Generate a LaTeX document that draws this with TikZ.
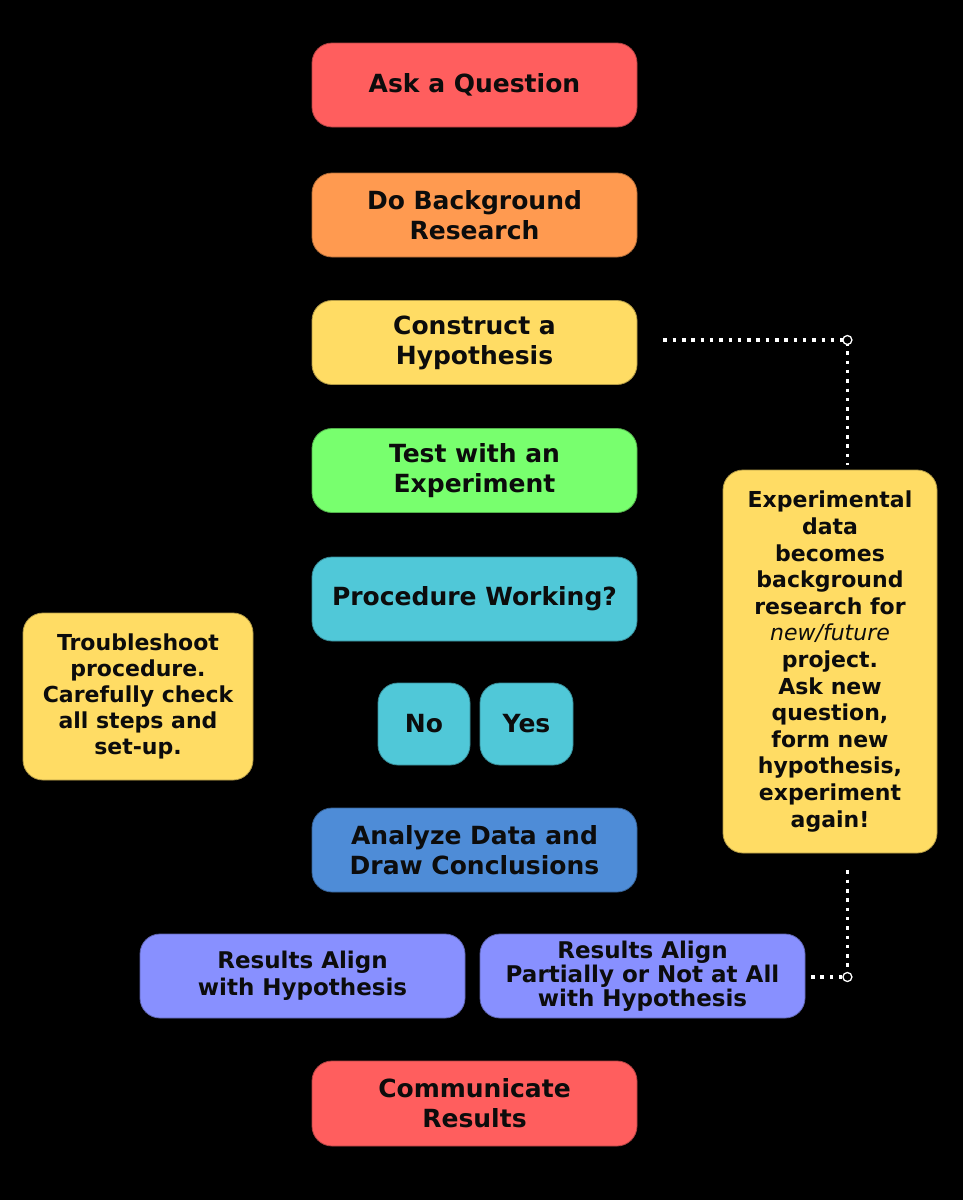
\documentclass[tikz,border=0pt]{standalone}
\usepackage{fontspec}
\setmainfont{DejaVu Sans}
\usetikzlibrary{calc}
\definecolor{cred}{RGB}{255,94,94}
\definecolor{corange}{RGB}{255,154,80}
\definecolor{cyellow}{RGB}{255,220,100}
\definecolor{cgreen}{RGB}{120,255,110}
\definecolor{ccyan}{RGB}{80,200,216}
\definecolor{cblue}{RGB}{78,140,215}
\definecolor{clav}{RGB}{136,144,255}
\definecolor{txt}{RGB}{12,12,12}
\tikzset{
  box/.style={rounded corners=20pt, draw=#1!70!black, fill=#1, line width=0.8pt,
    align=center, inner sep=0pt, text=txt,
    font=\bfseries\fontsize{25}{30}\selectfont},
  mainbox/.style={box=#1, minimum width=325pt, minimum height=84pt},
  smallbox/.style={box=#1, font=\bfseries\fontsize{22}{26}\selectfont},
  conn/.style={white, line width=3.5pt, dash pattern=on 3.5pt off 5.8pt},
  junction/.style={circle, draw=white, fill=black, line width=1.3pt, minimum size=9pt, inner sep=0pt},
}
\begin{document}
\begin{tikzpicture}[x=1pt,y=-1pt]
\fill[black] (0,0) rectangle (963,1200);
\useasboundingbox (0,0) rectangle (963,1200);

\node[mainbox=cred] (ask) at (474.5,85) {Ask a Question};
\node[mainbox=corange] (bg) at (474.5,215) {Do Background\\Research};
\node[mainbox=cyellow] (hyp) at (474.5,342.5) {Construct a\\Hypothesis};
\node[mainbox=cgreen] (test) at (474.5,470.5) {Test with an\\Experiment};
\node[mainbox=ccyan] (proc) at (474.5,599) {Procedure Working?};
\node[box=ccyan, minimum width=92pt, minimum height=82pt] (no) at (424,724) {No};
\node[box=ccyan, minimum width=93pt, minimum height=82pt] (yes) at (526.5,724) {Yes};
\node[smallbox=cyellow, minimum width=230pt, minimum height=167pt] (trouble) at (138,696.5)
  {Troubleshoot\\procedure.\\Carefully check\\all steps and\\set-up.};
\node[mainbox=cblue] (analyze) at (474.5,850) {Analyze Data and\\Draw Conclusions};
\node[smallbox=clav, minimum width=325pt, minimum height=84pt,
  font=\bfseries\fontsize{23}{27}\selectfont] (res1) at (302.5,976)
  {Results Align\\with Hypothesis};
\node[smallbox=clav, minimum width=325pt, minimum height=84pt,
  font=\bfseries\fontsize{23}{24}\selectfont] (res2) at (642.5,976)
  {Results Align\\Partially or Not at All\\with Hypothesis};
\node[mainbox=cred, minimum height=85pt] (comm) at (474.5,1103.5) {Communicate\\Results};
\node[smallbox=cyellow, minimum width=214pt, minimum height=383pt,
  font=\bfseries\fontsize{22}{26.6}\selectfont] (exp) at (830,661.5)
  {Experimental\\data\\becomes\\background\\research for\\\textit{\mdseries new/future}\\project.\\Ask new\\question,\\form new\\hypothesis,\\experiment\\again!};

% connectors
\path (hyp.east) ++(210,-2.5) coordinate (j1);
\path (res2.east) ++(42,1) coordinate (j2);
\draw[conn] ($(hyp.east)+(26,-2.5)$) -- (j1) -- ($(j1 |- exp.north)+(0,-5)$);
\draw[conn] ($(j2 |- exp.south)+(0,17)$) -- (j2) -- ($(res2.east)+(3,1)$);
\node[junction] (k1) at (j1) {};
\node[junction] (k2) at (j2) {};
\end{tikzpicture}
\end{document}
